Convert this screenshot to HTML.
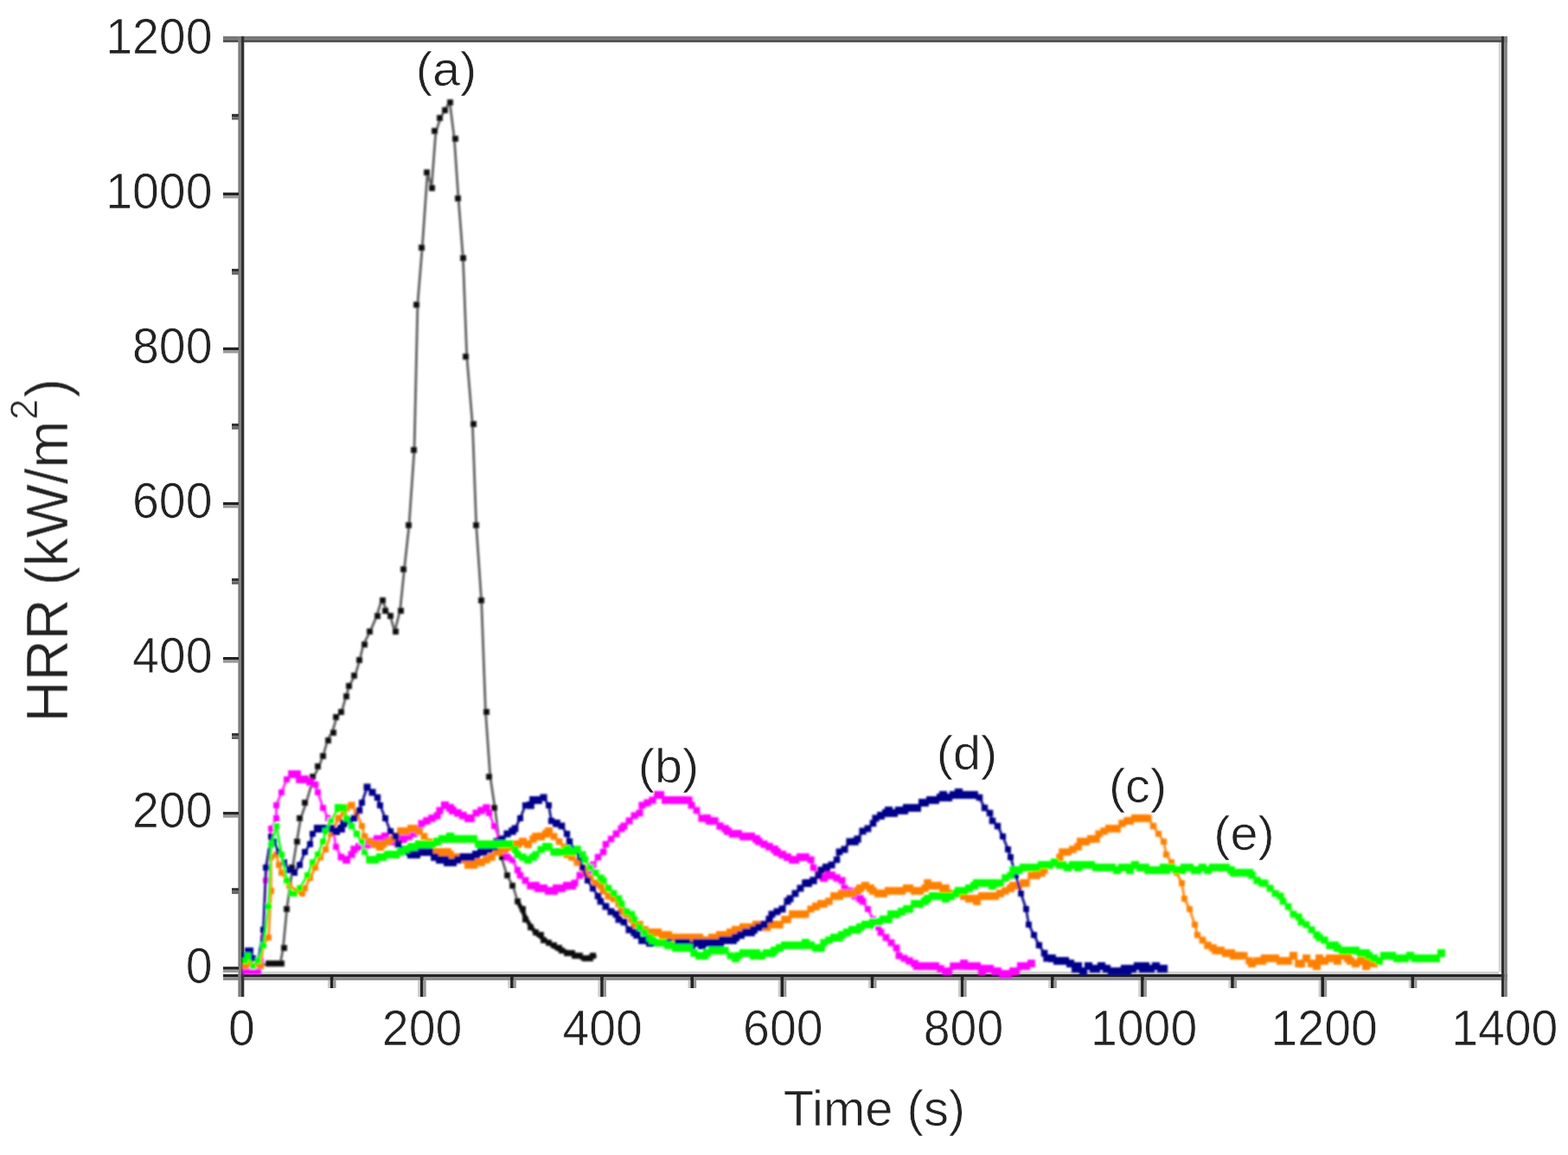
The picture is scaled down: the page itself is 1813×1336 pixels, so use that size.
<!DOCTYPE html>
<html lang="en"><head><meta charset="utf-8"><title>HRR vs Time</title>
<style>html,body{margin:0;padding:0;background:#fff}body{width:1813px;height:1336px;overflow:hidden}svg{display:block}/*0.9*/text{font-family:"Liberation Sans",sans-serif;fill:#202020;stroke:#fff;stroke-width:0.7px}</style></head><body>
<svg width="1813" height="1336" viewBox="0 0 1813 1336">
<defs><filter id="fc" filterUnits="userSpaceOnUse" x="0" y="0" width="1813" height="1336"><feGaussianBlur stdDeviation="0.9"/></filter><filter id="fa" filterUnits="userSpaceOnUse" x="0" y="0" width="1813" height="1336"><feGaussianBlur stdDeviation="0.45"/></filter><filter id="ft" filterUnits="userSpaceOnUse" x="0" y="0" width="1813" height="1336"><feGaussianBlur stdDeviation="0.7"/></filter></defs>
<rect width="1813" height="1336" fill="#fff"/>
<g id="axes" filter="url(#fa)">
<rect x="258.0" y="42.0" width="1485.0" height="3.5" fill="#767676"/>
<rect x="258.0" y="45.5" width="1485.0" height="3.5" fill="#565656"/>
<rect x="282.0" y="1123.7" width="1451.0" height="3.2" fill="#d2d2d2"/>
<rect x="258.0" y="1126.9" width="1485.0" height="3.5" fill="#222"/>
<rect x="258.0" y="1130.4" width="1485.0" height="3.5" fill="#8a8a8a"/>
<rect x="275.3" y="42.0" width="3.6" height="1111.0" fill="#808080"/>
<rect x="278.9" y="42.0" width="3.4" height="1111.0" fill="#333"/>
<rect x="1732.8" y="49.0" width="3.2" height="1075.0" fill="#d4d4d4"/>
<rect x="1736.0" y="42.0" width="3.2" height="1111.0" fill="#2e2e2e"/>
<rect x="1739.2" y="42.0" width="3.6" height="1111.0" fill="#808080"/>
<rect x="258.0" y="1118.2" width="18.0" height="3.5" fill="#222"/>
<rect x="258.0" y="1121.7" width="18.0" height="3.2" fill="#999"/>
<rect x="268.0" y="1027.2" width="8.0" height="3.4" fill="#333"/>
<rect x="268.0" y="1030.7" width="8.0" height="3.4" fill="#666"/>
<rect x="258.0" y="939.1" width="18.0" height="3.5" fill="#222"/>
<rect x="258.0" y="942.6" width="18.0" height="3.2" fill="#999"/>
<rect x="268.0" y="848.1" width="8.0" height="3.4" fill="#333"/>
<rect x="268.0" y="851.6" width="8.0" height="3.4" fill="#666"/>
<rect x="258.0" y="760.0" width="18.0" height="3.5" fill="#222"/>
<rect x="258.0" y="763.5" width="18.0" height="3.2" fill="#999"/>
<rect x="268.0" y="669.0" width="8.0" height="3.4" fill="#333"/>
<rect x="268.0" y="672.5" width="8.0" height="3.4" fill="#666"/>
<rect x="258.0" y="580.9" width="18.0" height="3.5" fill="#222"/>
<rect x="258.0" y="584.4" width="18.0" height="3.2" fill="#999"/>
<rect x="268.0" y="489.9" width="8.0" height="3.4" fill="#333"/>
<rect x="268.0" y="493.3" width="8.0" height="3.4" fill="#666"/>
<rect x="258.0" y="401.8" width="18.0" height="3.5" fill="#222"/>
<rect x="258.0" y="405.3" width="18.0" height="3.2" fill="#999"/>
<rect x="268.0" y="310.9" width="8.0" height="3.4" fill="#333"/>
<rect x="268.0" y="314.3" width="8.0" height="3.4" fill="#666"/>
<rect x="258.0" y="222.7" width="18.0" height="3.5" fill="#222"/>
<rect x="258.0" y="226.2" width="18.0" height="3.2" fill="#999"/>
<rect x="268.0" y="131.8" width="8.0" height="3.4" fill="#333"/>
<rect x="268.0" y="135.2" width="8.0" height="3.4" fill="#666"/>
<rect x="378.9" y="1134.0" width="2.8" height="9.0" fill="#ccc"/>
<rect x="381.8" y="1130.0" width="3.6" height="13.0" fill="#222"/>
<rect x="385.3" y="1134.0" width="3.2" height="9.0" fill="#999"/>
<rect x="483.1" y="1134.0" width="2.8" height="19.0" fill="#ccc"/>
<rect x="485.9" y="1130.0" width="3.6" height="23.0" fill="#222"/>
<rect x="489.5" y="1134.0" width="3.2" height="19.0" fill="#999"/>
<rect x="587.2" y="1134.0" width="2.8" height="9.0" fill="#ccc"/>
<rect x="590.1" y="1130.0" width="3.6" height="13.0" fill="#222"/>
<rect x="593.7" y="1134.0" width="3.2" height="9.0" fill="#999"/>
<rect x="691.4" y="1134.0" width="2.8" height="19.0" fill="#ccc"/>
<rect x="694.2" y="1130.0" width="3.6" height="23.0" fill="#222"/>
<rect x="697.8" y="1134.0" width="3.2" height="19.0" fill="#999"/>
<rect x="795.5" y="1134.0" width="2.8" height="9.0" fill="#ccc"/>
<rect x="798.4" y="1130.0" width="3.6" height="13.0" fill="#222"/>
<rect x="802.0" y="1134.0" width="3.2" height="9.0" fill="#999"/>
<rect x="899.7" y="1134.0" width="2.8" height="19.0" fill="#ccc"/>
<rect x="902.5" y="1130.0" width="3.6" height="23.0" fill="#222"/>
<rect x="906.1" y="1134.0" width="3.2" height="19.0" fill="#999"/>
<rect x="1003.9" y="1134.0" width="2.8" height="9.0" fill="#ccc"/>
<rect x="1006.7" y="1130.0" width="3.6" height="13.0" fill="#222"/>
<rect x="1010.3" y="1134.0" width="3.2" height="9.0" fill="#999"/>
<rect x="1108.0" y="1134.0" width="2.8" height="19.0" fill="#ccc"/>
<rect x="1110.8" y="1130.0" width="3.6" height="23.0" fill="#222"/>
<rect x="1114.4" y="1134.0" width="3.2" height="19.0" fill="#999"/>
<rect x="1212.2" y="1134.0" width="2.8" height="9.0" fill="#ccc"/>
<rect x="1215.0" y="1130.0" width="3.6" height="13.0" fill="#222"/>
<rect x="1218.6" y="1134.0" width="3.2" height="9.0" fill="#999"/>
<rect x="1316.3" y="1134.0" width="2.8" height="19.0" fill="#ccc"/>
<rect x="1319.1" y="1130.0" width="3.6" height="23.0" fill="#222"/>
<rect x="1322.7" y="1134.0" width="3.2" height="19.0" fill="#999"/>
<rect x="1420.5" y="1134.0" width="2.8" height="9.0" fill="#ccc"/>
<rect x="1423.2" y="1130.0" width="3.6" height="13.0" fill="#222"/>
<rect x="1426.9" y="1134.0" width="3.2" height="9.0" fill="#999"/>
<rect x="1524.6" y="1134.0" width="2.8" height="19.0" fill="#ccc"/>
<rect x="1527.4" y="1130.0" width="3.6" height="23.0" fill="#222"/>
<rect x="1531.0" y="1134.0" width="3.2" height="19.0" fill="#999"/>
<rect x="1628.8" y="1134.0" width="2.8" height="9.0" fill="#ccc"/>
<rect x="1631.5" y="1130.0" width="3.6" height="13.0" fill="#222"/>
<rect x="1635.2" y="1134.0" width="3.2" height="9.0" fill="#999"/>
</g>
<g id="curves" filter="url(#fc)">
<polyline points="279.0,1118.0 300.0,1116.0 324.0,1115.0 327.3,1097.3 331.8,1050.2 338.5,1002.5 343.1,973.8 347.6,946.8 353.9,928.9 362.9,898.3 368.3,887.6 374.0,873.2 379.0,855.2 384.4,846.2 389.5,829.2 395.2,822.9 399.7,806.7 404.2,792.3 410.5,781.6 415.9,763.6 420.2,745.3 428.0,730.4 435.1,713.9 441.4,693.4 446.9,705.2 451.6,713.9 456.4,730.4 462.6,706.0 467.4,658.8 472.9,608.5 479.0,520.3 482.9,351.4 488.3,285.4 494.3,199.0 499.0,217.0 503.8,153.0 509.0,137.5 514.5,126.7 520.0,118.0 525.3,160.4 530.0,229.0 535.4,298.8 539.7,411.5 546.4,491.6 550.7,608.5 556.7,695.8 561.4,822.3 566.8,898.3 572.2,934.3 579.7,991.2 586.4,1013.0 593.2,1024.8 598.2,1041.7 603.3,1051.8 608.3,1062.8 615.0,1073.7 621.5,1081.0 633.0,1089.4 644.7,1097.6 657.9,1101.8 669.5,1105.9 674.5,1109.2 682.7,1106.7 689.4,1105.0" fill="none" stroke="#5c5c5c" stroke-width="2.8" stroke-linejoin="round"/>
<polyline points="598.2,1041.7 603.3,1051.8 608.3,1062.8 615.0,1073.7 621.5,1081.0 633.0,1089.4 644.7,1097.6 657.9,1101.8 669.5,1105.9 674.5,1109.2 682.7,1106.7 689.4,1105.0" fill="none" stroke="#111" stroke-width="5" stroke-linejoin="round"/>
<path d="M307.1 1111.1h6.8v6.8h-6.8zM313.1 1111.1h6.8v6.8h-6.8zM316.1 1111.1h6.8v6.8h-6.8zM322.1 1111.1h6.8v6.8h-6.8zM325.1 1093.1h6.8v6.8h-6.8zM328.1 1048.1h6.8v6.8h-6.8zM334.1 1000.1h6.8v6.8h-6.8zM340.1 970.1h6.8v6.8h-6.8zM343.1 943.1h6.8v6.8h-6.8zM349.1 925.1h6.8v6.8h-6.8zM358.1 895.1h6.8v6.8h-6.8zM364.1 883.1h6.8v6.8h-6.8zM370.1 871.1h6.8v6.8h-6.8zM376.1 853.1h6.8v6.8h-6.8zM382.1 844.1h6.8v6.8h-6.8zM385.1 826.1h6.8v6.8h-6.8zM391.1 820.1h6.8v6.8h-6.8zM397.1 802.1h6.8v6.8h-6.8zM400.1 790.1h6.8v6.8h-6.8zM406.1 778.1h6.8v6.8h-6.8zM412.1 760.1h6.8v6.8h-6.8zM418.1 742.1h6.8v6.8h-6.8zM424.1 727.1h6.8v6.8h-6.8zM433.1 709.1h6.8v6.8h-6.8zM439.1 691.1h6.8v6.8h-6.8zM442.1 703.1h6.8v6.8h-6.8zM448.1 709.1h6.8v6.8h-6.8zM454.1 727.1h6.8v6.8h-6.8zM460.1 703.1h6.8v6.8h-6.8zM463.1 655.1h6.8v6.8h-6.8zM469.1 604.1h6.8v6.8h-6.8zM475.1 517.1h6.8v6.8h-6.8zM478.1 349.1h6.8v6.8h-6.8zM484.1 283.1h6.8v6.8h-6.8zM490.1 196.1h6.8v6.8h-6.8zM496.1 214.1h6.8v6.8h-6.8zM499.1 148.1h6.8v6.8h-6.8zM505.1 133.1h6.8v6.8h-6.8zM511.1 124.1h6.8v6.8h-6.8zM517.1 115.1h6.8v6.8h-6.8zM523.1 157.1h6.8v6.8h-6.8zM526.1 226.1h6.8v6.8h-6.8zM532.1 295.1h6.8v6.8h-6.8zM535.1 409.1h6.8v6.8h-6.8zM544.1 487.1h6.8v6.8h-6.8zM547.1 604.1h6.8v6.8h-6.8zM553.1 691.1h6.8v6.8h-6.8zM559.1 820.1h6.8v6.8h-6.8zM562.1 895.1h6.8v6.8h-6.8zM568.1 931.1h6.8v6.8h-6.8zM577.1 988.1h6.8v6.8h-6.8zM583.1 1009.1h6.8v6.8h-6.8zM589.1 1021.1h6.8v6.8h-6.8zM595.1 1039.1h6.8v6.8h-6.8zM601.1 1048.1h6.8v6.8h-6.8zM604.1 1060.1h6.8v6.8h-6.8zM610.1 1069.1h6.8v6.8h-6.8zM616.1 1075.1h6.8v6.8h-6.8zM622.1 1078.1h6.8v6.8h-6.8zM625.1 1084.1h6.8v6.8h-6.8zM631.1 1087.1h6.8v6.8h-6.8zM637.1 1090.1h6.8v6.8h-6.8zM643.1 1093.1h6.8v6.8h-6.8zM646.1 1096.1h6.8v6.8h-6.8zM652.1 1099.1h6.8v6.8h-6.8zM658.1 1099.1h6.8v6.8h-6.8zM661.1 1102.1h6.8v6.8h-6.8zM667.1 1102.1h6.8v6.8h-6.8zM673.1 1105.1h6.8v6.8h-6.8zM679.1 1105.1h6.8v6.8h-6.8zM682.1 1102.1h6.8v6.8h-6.8z" fill="#0a0a0a"/>
<polyline points="283.5,1123.5 289.5,1123.5 292.5,1123.5 298.5,1123.5 301.5,1111.5 304.5,1084.5 307.5,1018.5 313.5,958.5 319.5,946.5 319.5,931.5 325.5,916.5 331.5,901.5 337.5,895.5 343.5,895.5 346.5,901.5 352.5,901.5 358.5,904.5 364.5,907.5 367.5,916.5 373.5,934.5 379.5,946.5 385.5,961.5 388.5,979.5 394.5,991.5 400.5,994.5 406.5,988.5 409.5,982.5 415.5,979.5 421.5,979.5 424.5,976.5 430.5,973.5 436.5,970.5 442.5,973.5 445.5,967.5 451.5,973.5 457.5,973.5 463.5,970.5 466.5,970.5 472.5,967.5 478.5,964.5 484.5,958.5 487.5,952.5 493.5,949.5 499.5,946.5 505.5,943.5 508.5,937.5 514.5,931.5 520.5,934.5 523.5,937.5 529.5,940.5 535.5,943.5 541.5,946.5 544.5,946.5 550.5,940.5 556.5,937.5 562.5,934.5 565.5,940.5 571.5,955.5 577.5,970.5 583.5,985.5 586.5,991.5 592.5,994.5 598.5,1006.5 601.5,1012.5 607.5,1018.5 613.5,1024.5 619.5,1024.5 622.5,1027.5 628.5,1027.5 634.5,1030.5 640.5,1030.5 643.5,1027.5 649.5,1027.5 655.5,1024.5 661.5,1024.5 664.5,1021.5 670.5,1012.5 676.5,1009.5 682.5,1006.5 685.5,1000.5 691.5,991.5 697.5,985.5 700.5,976.5 706.5,970.5 712.5,964.5 718.5,958.5 721.5,955.5 727.5,949.5 733.5,943.5 739.5,940.5 742.5,931.5 748.5,928.5 754.5,925.5 760.5,919.5 763.5,919.5 769.5,925.5 775.5,925.5 781.5,925.5 784.5,925.5 790.5,925.5 796.5,925.5 799.5,931.5 805.5,937.5 811.5,946.5 817.5,946.5 820.5,949.5 826.5,949.5 832.5,955.5 838.5,958.5 841.5,961.5 847.5,964.5 853.5,964.5 859.5,967.5 862.5,967.5 868.5,967.5 874.5,970.5 877.5,973.5 883.5,976.5 889.5,979.5 895.5,982.5 898.5,985.5 904.5,988.5 910.5,991.5 916.5,994.5 919.5,994.5 925.5,991.5 931.5,991.5 937.5,994.5 940.5,1003.5 946.5,1012.5 952.5,1015.5 958.5,1012.5 961.5,1012.5 967.5,1015.5 973.5,1018.5 976.5,1027.5 982.5,1030.5 988.5,1036.5 994.5,1039.5 997.5,1042.5 1003.5,1051.5 1009.5,1063.5 1015.5,1072.5 1018.5,1078.5 1024.5,1084.5 1030.5,1090.5 1036.5,1096.5 1039.5,1105.5 1045.5,1108.5 1051.5,1111.5 1057.5,1114.5 1060.5,1117.5 1066.5,1117.5 1072.5,1117.5 1075.5,1117.5 1081.5,1117.5 1087.5,1120.5 1093.5,1123.5 1096.5,1123.5 1102.5,1117.5 1108.5,1117.5 1114.5,1114.5 1117.5,1117.5 1123.5,1117.5 1129.5,1117.5 1135.5,1123.5 1138.5,1120.5 1144.5,1120.5 1150.5,1123.5 1153.5,1123.5 1159.5,1126.5 1165.5,1126.5 1171.5,1123.5 1174.5,1123.5 1180.5,1117.5 1186.5,1117.5 1192.5,1114.5" fill="none" stroke="#ff20ff" stroke-width="2.8" stroke-linejoin="round"/>
<path d="M280.0 1120.0h7v7h-7zM286.0 1120.0h7v7h-7zM289.0 1120.0h7v7h-7zM295.0 1120.0h7v7h-7zM298.0 1108.0h7v7h-7zM301.0 1081.0h7v7h-7zM304.0 1015.0h7v7h-7zM310.0 955.0h7v7h-7zM316.0 943.0h7v7h-7zM316.0 928.0h7v7h-7zM322.0 913.0h7v7h-7zM328.0 898.0h7v7h-7z" fill="#ff00ff"/>
<path d="M333.1 891.1h8.8v8.8h-8.8zM339.1 891.1h8.8v8.8h-8.8zM342.1 897.0h8.9v8.9h-8.9zM348.1 897.1h8.8v8.8h-8.8zM354.2 900.2h8.5v8.5h-8.5zM360.7 903.7h7.6v7.6h-7.6zM364.0 913.0h7v7h-7zM370.0 931.0h7v7h-7zM376.0 943.0h7v7h-7zM382.1 958.0h6.9v6.9h-6.9zM385.1 976.0h6.9v6.9h-6.9zM390.6 987.6h7.7v7.7h-7.7zM396.0 990.0h9v9h-9zM402.4 984.4h8.2v8.2h-8.2zM405.3 978.3h8.4v8.4h-8.4zM411.1 975.1h8.7v8.7h-8.7zM417.1 975.1h8.8v8.8h-8.8zM420.1 972.1h8.8v8.8h-8.8zM426.1 969.0h8.9v8.9h-8.9zM432.0 966.0h9v9h-9zM437.9 969.0h9.1v9.1h-9.1zM440.9 962.9h9.2v9.2h-9.2zM446.9 969.0h9.1v9.1h-9.1zM452.9 968.9h9.2v9.2h-9.2zM458.9 965.9h9.2v9.2h-9.2zM462.0 966.0h9v9h-9zM468.4 963.4h8.3v8.3h-8.3zM474.5 960.5h8v8h-8zM480.6 954.5h7.9v7.9h-7.9zM483.4 948.4h8.2v8.2h-8.2zM489.2 945.2h8.6v8.6h-8.6zM495.2 942.2h8.6v8.6h-8.6zM501.4 939.4h8.3v8.3h-8.3zM504.4 933.4h8.3v8.3h-8.3zM509.9 927.0h9.1v9.1h-9.1zM516.0 930.0h9v9h-9zM519.0 933.0h8.9v8.9h-8.9zM525.1 936.1h8.7v8.7h-8.7zM531.1 939.1h8.7v8.7h-8.7zM537.0 942.0h9v9h-9zM540.1 942.1h8.8v8.8h-8.8zM546.5 936.5h8v8h-8zM552.2 933.2h8.6v8.6h-8.6zM558.2 930.2h8.6v8.6h-8.6zM561.9 936.9h7.2v7.2h-7.2zM568.0 952.0h6.9v6.9h-6.9zM574.0 967.0h7v7h-7zM579.9 981.9h7.3v7.3h-7.3zM582.5 987.5h8v8h-8zM588.7 990.7h7.6v7.6h-7.6zM594.8 1002.8h7.4v7.4h-7.4zM597.7 1008.7h7.6v7.6h-7.6zM603.5 1014.5h8v8h-8zM609.2 1020.2h8.5v8.5h-8.5zM615.0 1020.0h8.9v8.9h-8.9zM618.0 1023.0h9v9h-9zM623.9 1022.9h9.2v9.2h-9.2zM629.9 1025.9h9.2v9.2h-9.2zM636.0 1026.0h9.1v9.1h-9.1zM639.0 1023.0h9.1v9.1h-9.1zM645.0 1023.0h9.1v9.1h-9.1zM651.0 1020.0h9v9h-9zM657.0 1020.0h8.9v8.9h-8.9zM660.5 1017.5h8v8h-8zM666.6 1008.6h7.8v7.8h-7.8zM672.4 1005.4h8.3v8.3h-8.3zM678.4 1002.4h8.3v8.3h-8.3zM681.6 996.6h7.8v7.8h-7.8zM687.7 987.7h7.6v7.6h-7.6zM693.7 981.7h7.6v7.6h-7.6zM696.7 972.7h7.6v7.6h-7.6zM702.8 966.8h7.5v7.5h-7.5zM708.6 960.6h7.8v7.8h-7.8zM714.5 954.5h8.1v8.1h-8.1zM717.4 951.4h8.2v8.2h-8.2zM723.5 945.5h8.1v8.1h-8.1zM729.5 939.5h8v8h-8zM735.5 936.5h8.1v8.1h-8.1zM738.4 927.4h8.2v8.2h-8.2zM744.4 924.4h8.3v8.3h-8.3zM750.4 921.4h8.3v8.3h-8.3zM756.0 915.0h9v9h-9zM759.0 915.0h9.1v9.1h-9.1zM765.0 921.0h9v9h-9zM770.9 920.9h9.2v9.2h-9.2zM776.9 920.9h9.2v9.2h-9.2zM779.9 920.9h9.2v9.2h-9.2zM786.0 921.0h9v9h-9zM792.2 921.2h8.5v8.5h-8.5zM795.5 927.5h8.1v8.1h-8.1zM801.6 933.6h7.7v7.7h-7.7zM807.4 942.4h8.3v8.3h-8.3zM813.0 942.0h8.9v8.9h-8.9zM816.1 945.1h8.8v8.8h-8.8zM822.2 945.2h8.5v8.5h-8.5zM828.3 951.3h8.4v8.4h-8.4zM834.2 954.2h8.6v8.6h-8.6zM837.0 957.0h8.9v8.9h-8.9zM843.0 960.0h8.9v8.9h-8.9zM849.0 960.0h8.9v8.9h-8.9zM855.0 963.0h9v9h-9zM858.0 963.0h9.1v9.1h-9.1zM864.0 963.0h9.1v9.1h-9.1zM870.0 966.0h8.9v8.9h-8.9zM873.2 969.2h8.6v8.6h-8.6zM879.2 972.2h8.6v8.6h-8.6zM885.1 975.1h8.7v8.7h-8.7zM891.1 978.1h8.8v8.8h-8.8zM894.1 981.1h8.8v8.8h-8.8zM900.1 984.1h8.8v8.8h-8.8zM906.1 987.1h8.8v8.8h-8.8zM912.0 990.0h9v9h-9zM914.9 989.9h9.2v9.2h-9.2zM921.0 987.0h9.1v9.1h-9.1zM927.0 987.0h8.9v8.9h-8.9zM933.4 990.4h8.2v8.2h-8.2zM936.8 999.8h7.5v7.5h-7.5zM942.6 1008.6h7.8v7.8h-7.8zM947.9 1010.9h9.2v9.2h-9.2zM953.9 1007.9h9.2v9.2h-9.2zM957.0 1008.0h8.9v8.9h-8.9zM963.3 1011.3h8.4v8.4h-8.4zM969.4 1014.4h8.2v8.2h-8.2zM972.5 1023.5h8v8h-8zM978.5 1026.5h7.9v7.9h-7.9zM984.4 1032.4h8.2v8.2h-8.2zM990.3 1035.3h8.4v8.4h-8.4zM993.6 1038.6h7.8v7.8h-7.8zM999.9 1047.9h7.2v7.2h-7.2zM1005.9 1059.8h7.3v7.3h-7.3zM1011.8 1068.8h7.5v7.5h-7.5zM1014.6 1074.6h7.8v7.8h-7.8zM1020.5 1080.5h8v8h-8zM1026.5 1086.5h7.9v7.9h-7.9zM1032.6 1092.6h7.8v7.8h-7.8zM1035.5 1101.5h7.9v7.9h-7.9zM1041.5 1104.5h8.1v8.1h-8.1zM1047.2 1107.2h8.5v8.5h-8.5zM1053.2 1110.2h8.7v8.7h-8.7zM1056.0 1113.0h9v9h-9zM1061.9 1112.9h9.2v9.2h-9.2zM1068.0 1113.0h9v9h-9zM1071.0 1113.0h8.9v8.9h-8.9zM1077.0 1113.0h9v9h-9zM1083.3 1116.3h8.4v8.4h-8.4zM1089.2 1119.2h8.7v8.7h-8.7zM1091.9 1118.9h9.2v9.2h-9.2zM1098.2 1113.2h8.5v8.5h-8.5zM1104.2 1113.2h8.6v8.6h-8.6zM1110.0 1110.0h9.1v9.1h-9.1zM1113.0 1113.0h8.9v8.9h-8.9zM1119.1 1113.1h8.8v8.8h-8.8zM1125.0 1113.0h9.1v9.1h-9.1zM1130.9 1118.9h9.2v9.2h-9.2zM1133.9 1115.9h9.2v9.2h-9.2zM1140.0 1116.0h9.1v9.1h-9.1zM1146.0 1119.0h8.9v8.9h-8.9zM1149.0 1119.0h9.1v9.1h-9.1zM1155.0 1122.0h9.1v9.1h-9.1zM1161.0 1122.0h9.1v9.1h-9.1zM1167.0 1119.0h9v9h-9zM1170.0 1119.0h9.1v9.1h-9.1zM1175.9 1112.9h9.2v9.2h-9.2zM1182.0 1113.0h9v9h-9zM1188.0 1110.0h8.9v8.9h-8.9z" fill="#ff00ff"/>
<polyline points="283.5,1117.5 289.5,1114.5 292.5,1117.5 301.5,1117.5 304.5,1093.5 310.5,1084.5 313.5,1030.5 313.5,991.5 319.5,988.5 322.5,1000.5 325.5,1009.5 331.5,1018.5 334.5,1024.5 343.5,1030.5 349.5,1033.5 352.5,1027.5 358.5,1015.5 364.5,1003.5 370.5,991.5 376.5,982.5 382.5,964.5 391.5,946.5 397.5,940.5 400.5,934.5 406.5,931.5 412.5,940.5 418.5,955.5 421.5,967.5 427.5,973.5 433.5,976.5 439.5,979.5 442.5,976.5 448.5,973.5 454.5,970.5 457.5,967.5 463.5,961.5 469.5,961.5 475.5,958.5 478.5,958.5 484.5,961.5 490.5,967.5 496.5,973.5 499.5,985.5 505.5,985.5 511.5,985.5 517.5,985.5 520.5,988.5 526.5,991.5 532.5,991.5 538.5,994.5 541.5,1000.5 547.5,1000.5 553.5,997.5 556.5,997.5 562.5,994.5 568.5,991.5 574.5,985.5 577.5,985.5 583.5,982.5 589.5,979.5 595.5,976.5 598.5,976.5 604.5,973.5 610.5,976.5 616.5,970.5 619.5,967.5 625.5,967.5 631.5,964.5 634.5,961.5 640.5,967.5 646.5,973.5 652.5,979.5 655.5,988.5 661.5,991.5 667.5,997.5 673.5,1003.5 676.5,1006.5 682.5,1015.5 688.5,1021.5 694.5,1024.5 697.5,1030.5 703.5,1036.5 709.5,1039.5 715.5,1045.5 718.5,1054.5 724.5,1057.5 730.5,1063.5 733.5,1069.5 739.5,1069.5 745.5,1075.5 751.5,1078.5 754.5,1078.5 760.5,1078.5 766.5,1081.5 772.5,1081.5 775.5,1084.5 781.5,1084.5 787.5,1084.5 793.5,1084.5 796.5,1087.5 802.5,1084.5 808.5,1084.5 814.5,1087.5 817.5,1087.5 823.5,1084.5 829.5,1084.5 832.5,1081.5 838.5,1081.5 844.5,1078.5 850.5,1075.5 853.5,1075.5 859.5,1072.5 865.5,1072.5 871.5,1072.5 874.5,1069.5 880.5,1069.5 886.5,1072.5 892.5,1069.5 895.5,1069.5 901.5,1069.5 907.5,1063.5 910.5,1063.5 916.5,1057.5 922.5,1057.5 928.5,1057.5 931.5,1057.5 937.5,1051.5 943.5,1048.5 949.5,1045.5 952.5,1045.5 958.5,1042.5 964.5,1036.5 970.5,1036.5 973.5,1033.5 979.5,1033.5 985.5,1033.5 991.5,1030.5 994.5,1027.5 1000.5,1024.5 1006.5,1027.5 1009.5,1030.5 1015.5,1033.5 1021.5,1033.5 1027.5,1030.5 1030.5,1030.5 1036.5,1030.5 1042.5,1030.5 1048.5,1027.5 1051.5,1027.5 1057.5,1030.5 1063.5,1030.5 1069.5,1027.5 1072.5,1021.5 1078.5,1024.5 1084.5,1024.5 1090.5,1027.5 1093.5,1027.5 1099.5,1033.5 1105.5,1033.5 1108.5,1033.5 1114.5,1036.5 1120.5,1039.5 1126.5,1039.5 1129.5,1042.5 1135.5,1036.5 1141.5,1036.5 1147.5,1036.5 1150.5,1036.5 1156.5,1033.5 1162.5,1030.5 1168.5,1027.5 1171.5,1024.5 1177.5,1024.5 1183.5,1021.5 1186.5,1021.5 1192.5,1012.5 1198.5,1012.5 1204.5,1009.5 1207.5,1006.5 1213.5,1000.5 1219.5,997.5 1225.5,991.5 1228.5,985.5 1234.5,985.5 1240.5,982.5 1246.5,979.5 1249.5,973.5 1255.5,973.5 1261.5,970.5 1267.5,970.5 1270.5,964.5 1276.5,961.5 1282.5,958.5 1285.5,958.5 1291.5,958.5 1297.5,952.5 1303.5,949.5 1306.5,949.5 1312.5,946.5 1318.5,946.5 1324.5,946.5 1327.5,946.5 1333.5,955.5 1339.5,964.5 1345.5,973.5 1348.5,988.5 1354.5,997.5 1360.5,1009.5 1366.5,1021.5 1369.5,1039.5 1375.5,1051.5 1381.5,1069.5 1384.5,1081.5 1390.5,1087.5 1396.5,1093.5 1402.5,1096.5 1405.5,1099.5 1411.5,1099.5 1417.5,1102.5 1423.5,1102.5 1426.5,1105.5 1432.5,1105.5 1438.5,1105.5 1444.5,1111.5 1447.5,1114.5 1453.5,1111.5 1459.5,1111.5 1462.5,1108.5 1468.5,1108.5 1474.5,1108.5 1480.5,1111.5 1483.5,1111.5 1489.5,1111.5 1495.5,1105.5 1501.5,1114.5 1504.5,1114.5 1510.5,1108.5 1516.5,1114.5 1522.5,1117.5 1525.5,1108.5 1531.5,1111.5 1537.5,1108.5 1543.5,1108.5 1546.5,1111.5 1552.5,1105.5 1558.5,1108.5 1561.5,1111.5 1567.5,1114.5 1573.5,1111.5 1579.5,1117.5 1582.5,1114.5 1588.5,1114.5 1594.5,1111.5" fill="none" stroke="#ff8a18" stroke-width="2.8" stroke-linejoin="round"/>
<path d="M280.0 1114.0h7v7h-7zM286.0 1111.0h7v7h-7zM289.0 1114.0h7v7h-7zM298.0 1114.0h7v7h-7zM301.0 1090.0h7v7h-7zM307.0 1081.0h7v7h-7zM310.0 1027.0h7v7h-7zM310.0 988.0h7v7h-7zM316.0 985.0h7v7h-7zM319.0 997.0h7v7h-7zM322.0 1006.0h7v7h-7zM328.0 1015.0h7v7h-7zM331.0 1021.0h7v7h-7zM340.0 1027.0h7v7h-7zM346.0 1030.0h7v7h-7zM349.0 1024.0h7v7h-7zM355.0 1012.0h7v7h-7zM361.0 1000.0h7v7h-7zM367.0 988.0h7v7h-7zM373.0 979.0h7v7h-7zM379.0 961.0h7v7h-7z" fill="#ff8000"/>
<path d="M387.5 942.5h8v8h-8zM393.7 936.7h7.6v7.6h-7.6zM396.5 930.5h8v8h-8zM402.4 927.4h8.2v8.2h-8.2zM408.9 937.0h7.1v7.1h-7.1zM414.9 952.0h7.1v7.1h-7.1zM417.9 963.9h7.3v7.3h-7.3zM423.5 969.5h8v8h-8zM429.1 972.1h8.8v8.8h-8.8zM434.9 974.9h9.2v9.2h-9.2zM438.1 972.1h8.7v8.7h-8.7zM444.2 969.2h8.6v8.6h-8.6zM450.2 966.2h8.6v8.6h-8.6zM453.2 963.2h8.6v8.6h-8.6zM459.1 957.1h8.7v8.7h-8.7zM465.1 957.1h8.8v8.8h-8.8zM471.0 954.0h9v9h-9zM473.9 953.9h9.2v9.2h-9.2zM480.2 957.2h8.5v8.5h-8.5zM486.6 963.6h7.7v7.7h-7.7zM492.8 969.8h7.4v7.4h-7.4zM495.4 981.5h8.1v8.1h-8.1zM500.9 980.9h9.2v9.2h-9.2zM506.9 981.0h9.1v9.1h-9.1zM513.1 981.1h8.8v8.8h-8.8zM516.1 984.1h8.8v8.8h-8.8zM522.1 987.1h8.8v8.8h-8.8zM528.1 987.1h8.8v8.8h-8.8zM534.1 990.1h8.8v8.8h-8.8zM537.0 996.0h9.1v9.1h-9.1zM542.9 995.9h9.2v9.2h-9.2zM549.0 993.0h9.1v9.1h-9.1zM552.0 993.0h8.9v8.9h-8.9zM558.2 990.2h8.6v8.6h-8.6zM564.2 987.2h8.5v8.5h-8.5zM570.2 981.2h8.6v8.6h-8.6zM573.2 981.2h8.6v8.6h-8.6zM579.1 978.1h8.8v8.8h-8.8zM585.0 975.0h9v9h-9zM591.0 972.0h9v9h-9zM594.0 972.0h9.1v9.1h-9.1zM599.9 968.9h9.2v9.2h-9.2zM606.0 972.0h9v9h-9zM612.3 966.3h8.4v8.4h-8.4zM615.2 963.2h8.6v8.6h-8.6zM621.0 963.0h9v9h-9zM627.0 960.0h9.1v9.1h-9.1zM630.0 957.0h9v9h-9zM636.5 963.5h8v8h-8zM642.7 969.7h7.6v7.6h-7.6zM648.7 975.7h7.6v7.6h-7.6zM651.5 984.5h7.9v7.9h-7.9zM657.3 987.3h8.4v8.4h-8.4zM663.5 993.5h8.1v8.1h-8.1zM669.6 999.6h7.7v7.7h-7.7zM672.6 1002.6h7.8v7.8h-7.8zM678.5 1011.5h7.9v7.9h-7.9zM684.5 1017.5h8v8h-8zM690.5 1020.5h8v8h-8zM693.5 1026.5h8v8h-8zM699.5 1032.5h8v8h-8zM705.5 1035.5h8v8h-8zM711.5 1041.5h8v8h-8zM714.5 1050.5h8v8h-8zM720.5 1053.5h8v8h-8zM726.5 1059.5h8v8h-8zM729.4 1065.3h8.3v8.3h-8.3zM735.2 1065.2h8.6v8.6h-8.6zM741.2 1071.2h8.6v8.6h-8.6zM747.0 1074.0h8.9v8.9h-8.9zM750.0 1074.0h9.1v9.1h-9.1zM756.0 1074.0h9.1v9.1h-9.1zM762.0 1077.0h9.1v9.1h-9.1zM768.0 1077.0h9.1v9.1h-9.1zM771.0 1080.0h9.1v9.1h-9.1zM776.9 1079.9h9.2v9.2h-9.2zM782.9 1079.9h9.2v9.2h-9.2zM788.9 1079.9h9.2v9.2h-9.2zM791.9 1082.9h9.2v9.2h-9.2zM797.9 1079.9h9.2v9.2h-9.2zM803.9 1079.9h9.2v9.2h-9.2zM809.9 1082.9h9.2v9.2h-9.2zM813.0 1083.0h9.1v9.1h-9.1zM819.0 1080.0h9.1v9.1h-9.1zM825.0 1080.0h9.1v9.1h-9.1zM828.0 1077.0h9.1v9.1h-9.1zM834.0 1077.0h9.1v9.1h-9.1zM840.0 1074.0h9.1v9.1h-9.1zM846.0 1071.0h9v9h-9zM849.0 1071.0h9v9h-9zM855.0 1068.0h9v9h-9zM861.0 1068.0h9.1v9.1h-9.1zM866.9 1067.9h9.2v9.2h-9.2zM869.9 1064.9h9.2v9.2h-9.2zM875.9 1064.9h9.2v9.2h-9.2zM881.9 1067.9h9.2v9.2h-9.2zM887.9 1064.9h9.2v9.2h-9.2zM891.0 1065.0h9.1v9.1h-9.1zM897.1 1065.2h8.7v8.7h-8.7zM903.2 1059.2h8.6v8.6h-8.6zM906.1 1059.2h8.7v8.7h-8.7zM912.1 1053.1h8.8v8.8h-8.8zM917.9 1052.9h9.2v9.2h-9.2zM923.9 1052.9h9.2v9.2h-9.2zM927.4 1053.3h8.3v8.3h-8.3zM933.4 1047.4h8.2v8.2h-8.2zM939.0 1044.0h8.9v8.9h-8.9zM945.0 1041.0h8.9v8.9h-8.9zM948.1 1041.2h8.7v8.7h-8.7zM954.2 1038.2h8.6v8.6h-8.6zM960.1 1032.1h8.8v8.8h-8.8zM966.0 1032.0h9v9h-9zM969.0 1029.0h9.1v9.1h-9.1zM975.0 1029.0h9.1v9.1h-9.1zM981.0 1029.0h9v9h-9zM987.0 1026.0h8.9v8.9h-8.9zM990.0 1023.0h8.9v8.9h-8.9zM995.9 1019.9h9.2v9.2h-9.2zM1002.0 1023.0h9v9h-9zM1005.1 1026.2h8.7v8.7h-8.7zM1011.0 1029.0h9.1v9.1h-9.1zM1016.9 1028.9h9.2v9.2h-9.2zM1022.9 1025.9h9.2v9.2h-9.2zM1025.9 1025.9h9.2v9.2h-9.2zM1031.9 1025.9h9.2v9.2h-9.2zM1037.9 1025.9h9.2v9.2h-9.2zM1043.9 1022.9h9.2v9.2h-9.2zM1046.9 1022.9h9.2v9.2h-9.2zM1052.9 1025.9h9.2v9.2h-9.2zM1058.9 1025.9h9.2v9.2h-9.2zM1065.3 1023.3h8.4v8.4h-8.4zM1068.2 1017.1h8.7v8.7h-8.7zM1073.9 1019.9h9.2v9.2h-9.2zM1080.0 1020.0h9v9h-9zM1086.1 1023.1h8.8v8.8h-8.8zM1089.1 1023.1h8.8v8.8h-8.8zM1095.0 1029.0h8.9v8.9h-8.9zM1101.0 1029.0h9v9h-9zM1104.0 1029.0h9v9h-9zM1110.0 1032.0h9v9h-9zM1116.0 1035.0h8.9v8.9h-8.9zM1122.0 1035.0h9.1v9.1h-9.1zM1125.0 1038.0h9.1v9.1h-9.1zM1131.0 1032.0h8.9v8.9h-8.9zM1137.0 1032.0h9.1v9.1h-9.1zM1142.9 1031.9h9.2v9.2h-9.2zM1145.9 1031.9h9.2v9.2h-9.2zM1152.0 1029.0h8.9v8.9h-8.9zM1158.2 1026.2h8.5v8.5h-8.5zM1164.1 1023.1h8.8v8.8h-8.8zM1167.0 1020.0h9.1v9.1h-9.1zM1173.0 1020.0h9v9h-9zM1179.1 1017.1h8.8v8.8h-8.8zM1182.3 1017.3h8.4v8.4h-8.4zM1188.3 1008.4h8.3v8.3h-8.3zM1194.0 1008.0h8.9v8.9h-8.9zM1200.0 1005.0h8.9v8.9h-8.9zM1203.4 1002.4h8.2v8.2h-8.2zM1209.5 996.5h7.9v7.9h-7.9zM1215.5 993.5h8.1v8.1h-8.1zM1221.3 987.4h8.3v8.3h-8.3zM1224.2 981.2h8.5v8.5h-8.5zM1230.2 981.2h8.6v8.6h-8.6zM1236.2 978.2h8.6v8.6h-8.6zM1242.2 975.1h8.7v8.7h-8.7zM1245.0 969.0h8.9v8.9h-8.9zM1251.0 969.0h9v9h-9zM1257.0 966.0h9v9h-9zM1263.2 966.2h8.6v8.6h-8.6zM1266.4 960.4h8.2v8.2h-8.2zM1272.3 957.3h8.4v8.4h-8.4zM1278.0 954.0h8.9v8.9h-8.9zM1281.0 954.0h9.1v9.1h-9.1zM1287.0 954.0h8.9v8.9h-8.9zM1293.2 948.2h8.5v8.5h-8.5zM1299.2 945.2h8.6v8.6h-8.6zM1302.0 945.0h8.9v8.9h-8.9zM1308.0 942.0h9.1v9.1h-9.1zM1313.9 941.9h9.2v9.2h-9.2zM1320.0 942.0h9.1v9.1h-9.1zM1323.4 942.4h8.2v8.2h-8.2zM1329.8 951.8h7.4v7.4h-7.4zM1335.9 960.9h7.2v7.2h-7.2zM1341.9 969.9h7.2v7.2h-7.2zM1344.9 984.9h7.2v7.2h-7.2zM1351.0 994.0h7.1v7.1h-7.1zM1357.0 1006.0h7v7h-7zM1363.0 1018.0h7v7h-7zM1366.0 1036.0h6.9v6.9h-6.9zM1372.0 1048.0h6.9v6.9h-6.9zM1378.0 1066.0h7v7h-7zM1380.9 1077.9h7.2v7.2h-7.2zM1386.6 1083.6h7.8v7.8h-7.8zM1392.2 1089.2h8.5v8.5h-8.5zM1398.2 1092.2h8.6v8.6h-8.6zM1401.2 1095.2h8.6v8.6h-8.6zM1407.0 1095.0h8.9v8.9h-8.9zM1413.0 1098.0h9.1v9.1h-9.1zM1419.0 1098.0h9.1v9.1h-9.1zM1422.0 1101.0h9.1v9.1h-9.1zM1427.9 1100.9h9.2v9.2h-9.2zM1434.3 1101.3h8.3v8.3h-8.3zM1440.3 1107.3h8.3v8.3h-8.3zM1443.0 1110.0h9.1v9.1h-9.1zM1449.2 1107.2h8.7v8.7h-8.7zM1455.0 1107.0h9.1v9.1h-9.1zM1457.9 1103.9h9.2v9.2h-9.2zM1463.9 1103.9h9.2v9.2h-9.2zM1470.0 1104.0h9.1v9.1h-9.1zM1476.0 1107.0h8.9v8.9h-8.9zM1478.9 1106.9h9.2v9.2h-9.2zM1485.0 1107.0h8.9v8.9h-8.9zM1490.9 1100.9h9.2v9.2h-9.2zM1497.2 1110.2h8.7v8.7h-8.7zM1500.0 1110.0h9.1v9.1h-9.1zM1506.0 1104.0h9.1v9.1h-9.1zM1512.0 1110.0h9.1v9.1h-9.1zM1517.9 1112.9h9.2v9.2h-9.2zM1521.0 1104.0h9v9h-9zM1527.0 1107.0h9v9h-9zM1533.0 1104.0h9.1v9.1h-9.1zM1538.9 1103.9h9.2v9.2h-9.2zM1541.9 1106.9h9.2v9.2h-9.2zM1547.9 1100.9h9.2v9.2h-9.2zM1554.0 1104.0h9.1v9.1h-9.1zM1557.0 1107.0h9.1v9.1h-9.1zM1563.0 1110.0h9.1v9.1h-9.1zM1569.0 1107.0h9v9h-9zM1575.0 1113.0h9.1v9.1h-9.1zM1577.9 1109.9h9.2v9.2h-9.2zM1583.9 1109.9h9.2v9.2h-9.2zM1589.9 1106.9h9.2v9.2h-9.2z" fill="#ff8000"/>
<polyline points="283.5,1105.5 286.5,1099.5 289.5,1099.5 292.5,1108.5 298.5,1111.5 304.5,1075.5 307.5,1003.5 313.5,967.5 316.5,973.5 322.5,985.5 328.5,997.5 334.5,1006.5 340.5,1009.5 346.5,1000.5 352.5,985.5 358.5,976.5 361.5,964.5 367.5,958.5 373.5,958.5 379.5,958.5 382.5,958.5 388.5,961.5 394.5,958.5 397.5,952.5 403.5,949.5 409.5,946.5 415.5,937.5 418.5,928.5 424.5,910.5 430.5,916.5 436.5,922.5 439.5,931.5 445.5,946.5 451.5,961.5 457.5,967.5 460.5,976.5 466.5,982.5 472.5,985.5 475.5,988.5 481.5,988.5 487.5,985.5 493.5,985.5 496.5,985.5 502.5,991.5 508.5,994.5 514.5,994.5 517.5,997.5 523.5,997.5 529.5,994.5 535.5,991.5 538.5,991.5 544.5,991.5 550.5,988.5 556.5,985.5 559.5,985.5 565.5,982.5 571.5,979.5 574.5,973.5 580.5,970.5 586.5,964.5 592.5,961.5 595.5,958.5 601.5,946.5 607.5,931.5 613.5,931.5 616.5,925.5 622.5,925.5 628.5,922.5 634.5,931.5 637.5,949.5 643.5,952.5 649.5,955.5 655.5,964.5 658.5,973.5 664.5,982.5 670.5,991.5 673.5,1003.5 679.5,1018.5 685.5,1027.5 691.5,1036.5 694.5,1042.5 700.5,1048.5 706.5,1054.5 712.5,1057.5 715.5,1063.5 721.5,1066.5 727.5,1075.5 733.5,1078.5 736.5,1081.5 742.5,1087.5 748.5,1087.5 751.5,1090.5 757.5,1090.5 763.5,1090.5 769.5,1090.5 772.5,1090.5 778.5,1093.5 784.5,1090.5 790.5,1090.5 793.5,1090.5 799.5,1093.5 805.5,1090.5 811.5,1093.5 814.5,1090.5 820.5,1090.5 826.5,1090.5 832.5,1090.5 835.5,1087.5 841.5,1087.5 847.5,1087.5 850.5,1084.5 856.5,1081.5 862.5,1078.5 868.5,1078.5 871.5,1075.5 877.5,1072.5 883.5,1069.5 889.5,1063.5 892.5,1057.5 898.5,1054.5 904.5,1051.5 910.5,1042.5 913.5,1039.5 919.5,1033.5 925.5,1027.5 931.5,1021.5 934.5,1021.5 940.5,1018.5 946.5,1012.5 949.5,1006.5 955.5,1003.5 961.5,1000.5 967.5,994.5 970.5,985.5 976.5,982.5 982.5,973.5 988.5,973.5 991.5,970.5 997.5,961.5 1003.5,958.5 1009.5,952.5 1012.5,946.5 1018.5,943.5 1024.5,940.5 1027.5,937.5 1033.5,940.5 1039.5,937.5 1045.5,937.5 1048.5,934.5 1054.5,934.5 1060.5,934.5 1066.5,928.5 1069.5,928.5 1075.5,925.5 1081.5,925.5 1087.5,922.5 1090.5,919.5 1096.5,922.5 1102.5,919.5 1108.5,916.5 1111.5,919.5 1117.5,919.5 1123.5,919.5 1126.5,919.5 1132.5,922.5 1138.5,934.5 1144.5,940.5 1147.5,949.5 1153.5,955.5 1159.5,967.5 1165.5,982.5 1168.5,991.5 1174.5,1012.5 1180.5,1033.5 1186.5,1051.5 1189.5,1069.5 1195.5,1081.5 1201.5,1093.5 1207.5,1102.5 1210.5,1108.5 1216.5,1108.5 1222.5,1111.5 1225.5,1111.5 1231.5,1111.5 1237.5,1114.5 1243.5,1120.5 1246.5,1117.5 1252.5,1123.5 1258.5,1117.5 1264.5,1120.5 1267.5,1120.5 1273.5,1117.5 1279.5,1120.5 1285.5,1123.5 1288.5,1123.5 1294.5,1123.5 1300.5,1120.5 1303.5,1123.5 1309.5,1120.5 1315.5,1117.5 1321.5,1120.5 1324.5,1117.5 1330.5,1120.5 1336.5,1117.5 1342.5,1120.5 1345.5,1120.5" fill="none" stroke="#10108f" stroke-width="2.8" stroke-linejoin="round"/>
<path d="M280.0 1102.0h7v7h-7zM283.0 1096.0h7v7h-7zM286.0 1096.0h7v7h-7zM289.0 1105.0h7v7h-7zM295.0 1108.0h7v7h-7zM301.0 1072.0h7v7h-7zM304.0 1000.0h7v7h-7zM310.0 964.0h7v7h-7zM313.0 970.0h7v7h-7zM319.0 982.0h7v7h-7zM325.0 994.0h7v7h-7zM331.0 1003.0h7v7h-7zM337.0 1006.0h7v7h-7zM343.0 997.0h7v7h-7zM349.0 982.0h7v7h-7zM355.0 973.0h7v7h-7zM358.0 961.0h7v7h-7z" fill="#00008b"/>
<path d="M362.9 953.9h9.2v9.2h-9.2zM368.9 953.9h9.2v9.2h-9.2zM374.9 953.9h9.2v9.2h-9.2zM377.9 953.9h9.2v9.2h-9.2zM383.9 957.0h9.1v9.1h-9.1zM390.1 954.1h8.8v8.8h-8.8zM393.2 948.2h8.5v8.5h-8.5zM399.5 945.5h8v8h-8zM405.8 942.8h7.5v7.5h-7.5zM411.8 933.8h7.4v7.4h-7.4zM414.9 925.0h7.1v7.1h-7.1zM420.5 906.5h8v8h-8zM426.5 912.5h8v8h-8zM432.8 918.8h7.4v7.4h-7.4zM435.9 928.0h7.1v7.1h-7.1zM442.0 943.0h7v7h-7zM447.9 957.9h7.2v7.2h-7.2zM453.6 963.6h7.7v7.7h-7.7zM456.6 972.6h7.8v7.8h-7.8zM462.6 978.5h7.9v7.9h-7.9zM468.4 981.4h8.2v8.2h-8.2zM470.9 984.0h9.1v9.1h-9.1zM477.0 984.0h9v9h-9zM482.9 981.0h9.1v9.1h-9.1zM488.9 981.0h9.1v9.1h-9.1zM492.2 981.2h8.6v8.6h-8.6zM498.1 987.1h8.7v8.7h-8.7zM504.1 990.1h8.8v8.8h-8.8zM510.1 990.0h8.9v8.9h-8.9zM513.0 993.0h9.1v9.1h-9.1zM519.0 993.0h9.1v9.1h-9.1zM525.2 990.2h8.6v8.6h-8.6zM531.0 987.0h8.9v8.9h-8.9zM534.0 987.0h9.1v9.1h-9.1zM540.0 987.0h9.1v9.1h-9.1zM546.0 984.0h9v9h-9zM552.1 981.1h8.8v8.8h-8.8zM555.1 981.1h8.7v8.7h-8.7zM561.2 978.2h8.5v8.5h-8.5zM567.4 975.4h8.3v8.3h-8.3zM570.4 969.4h8.3v8.3h-8.3zM576.4 966.4h8.2v8.2h-8.2zM582.4 960.4h8.2v8.2h-8.2zM588.2 957.2h8.5v8.5h-8.5zM591.6 954.6h7.8v7.8h-7.8zM598.0 943.0h7v7h-7zM603.9 927.9h7.3v7.3h-7.3zM609.1 927.1h8.7v8.7h-8.7zM612.1 921.1h8.8v8.8h-8.8zM618.0 921.0h8.9v8.9h-8.9zM624.4 918.4h8.2v8.2h-8.2zM631.0 928.0h7v7h-7zM633.9 945.9h7.3v7.3h-7.3zM639.1 948.1h8.7v8.7h-8.7zM645.6 951.6h7.7v7.7h-7.7zM651.9 960.9h7.3v7.3h-7.3zM654.8 969.8h7.4v7.4h-7.4zM660.9 978.9h7.3v7.3h-7.3zM667.0 988.0h7.1v7.1h-7.1zM670.0 1000.0h7.1v7.1h-7.1zM675.9 1014.9h7.2v7.2h-7.2zM681.9 1023.9h7.3v7.3h-7.3zM687.7 1032.7h7.6v7.6h-7.6zM690.6 1038.7h7.7v7.7h-7.7zM696.5 1044.5h7.9v7.9h-7.9zM702.5 1050.5h8v8h-8zM708.5 1053.5h8v8h-8zM711.5 1059.5h7.9v7.9h-7.9zM717.5 1062.5h7.9v7.9h-7.9zM723.5 1071.5h8v8h-8zM729.3 1074.3h8.4v8.4h-8.4zM732.2 1077.2h8.6v8.6h-8.6zM738.1 1083.2h8.7v8.7h-8.7zM744.1 1083.1h8.8v8.8h-8.8zM747.0 1086.0h9.1v9.1h-9.1zM752.9 1085.9h9.2v9.2h-9.2zM758.9 1085.9h9.2v9.2h-9.2zM764.9 1085.9h9.2v9.2h-9.2zM767.9 1085.9h9.2v9.2h-9.2zM773.9 1088.9h9.2v9.2h-9.2zM779.9 1085.9h9.2v9.2h-9.2zM785.9 1085.9h9.2v9.2h-9.2zM788.9 1085.9h9.2v9.2h-9.2zM794.9 1088.9h9.2v9.2h-9.2zM800.9 1085.9h9.2v9.2h-9.2zM806.9 1088.9h9.2v9.2h-9.2zM809.9 1085.9h9.2v9.2h-9.2zM816.0 1086.0h9.1v9.1h-9.1zM822.0 1086.0h9.1v9.1h-9.1zM828.0 1086.0h9.1v9.1h-9.1zM831.0 1083.0h9.1v9.1h-9.1zM837.0 1083.0h9v9h-9zM843.0 1083.0h9v9h-9zM846.0 1080.0h9v9h-9zM852.0 1077.0h8.9v8.9h-8.9zM858.1 1074.1h8.8v8.8h-8.8zM864.1 1074.1h8.8v8.8h-8.8zM867.1 1071.2h8.7v8.7h-8.7zM873.2 1068.2h8.6v8.6h-8.6zM879.2 1065.2h8.6v8.6h-8.6zM885.4 1059.3h8.3v8.3h-8.3zM888.5 1053.5h8v8h-8zM894.5 1050.5h8v8h-8zM900.5 1047.5h8v8h-8zM906.5 1038.5h8v8h-8zM909.5 1035.5h8v8h-8zM915.5 1029.5h7.9v7.9h-7.9zM921.5 1023.5h7.9v7.9h-7.9zM927.2 1017.2h8.5v8.5h-8.5zM930.0 1017.0h8.9v8.9h-8.9zM936.3 1014.3h8.4v8.4h-8.4zM942.6 1008.6h7.8v7.8h-7.8zM945.4 1002.4h8.2v8.2h-8.2zM951.0 999.0h8.9v8.9h-8.9zM957.5 996.5h8.1v8.1h-8.1zM963.8 990.8h7.5v7.5h-7.5zM966.6 981.6h7.7v7.7h-7.7zM972.5 978.5h8v8h-8zM978.4 969.4h8.3v8.3h-8.3zM984.3 969.3h8.4v8.4h-8.4zM987.4 966.4h8.3v8.3h-8.3zM993.4 957.4h8.2v8.2h-8.2zM999.5 954.5h7.9v7.9h-7.9zM1005.6 948.6h7.7v7.7h-7.7zM1008.4 942.4h8.2v8.2h-8.2zM1014.1 939.1h8.8v8.8h-8.8zM1020.0 936.0h8.9v8.9h-8.9zM1023.0 933.0h9.1v9.1h-9.1zM1028.9 935.9h9.2v9.2h-9.2zM1034.9 932.9h9.2v9.2h-9.2zM1041.0 933.0h9.1v9.1h-9.1zM1044.0 930.0h9.1v9.1h-9.1zM1050.0 930.0h9v9h-9zM1056.0 930.0h9v9h-9zM1062.0 924.0h8.9v8.9h-8.9zM1065.0 924.0h8.9v8.9h-8.9zM1071.0 921.0h8.9v8.9h-8.9zM1077.0 921.0h9v9h-9zM1083.0 918.0h9.1v9.1h-9.1zM1086.0 915.0h9.1v9.1h-9.1zM1092.0 918.0h9.1v9.1h-9.1zM1097.9 914.9h9.2v9.2h-9.2zM1103.9 911.9h9.2v9.2h-9.2zM1106.9 914.9h9.2v9.2h-9.2zM1112.9 914.9h9.2v9.2h-9.2zM1118.9 914.9h9.2v9.2h-9.2zM1122.0 915.0h8.9v8.9h-8.9zM1128.7 918.7h7.6v7.6h-7.6zM1134.8 930.8h7.4v7.4h-7.4zM1140.7 936.7h7.6v7.6h-7.6zM1143.7 945.7h7.6v7.6h-7.6zM1149.8 951.8h7.4v7.4h-7.4zM1156.0 964.0h7.1v7.1h-7.1zM1162.0 979.0h7v7h-7zM1165.0 988.0h6.9v6.9h-6.9zM1171.1 1009.1h6.8v6.8h-6.8zM1177.1 1030.1h6.8v6.8h-6.8zM1183.1 1048.1h6.8v6.8h-6.8zM1186.0 1066.0h6.9v6.9h-6.9zM1192.0 1078.0h7.1v7.1h-7.1zM1197.8 1089.8h7.3v7.3h-7.3zM1203.7 1098.7h7.7v7.7h-7.7zM1206.3 1104.3h8.3v8.3h-8.3zM1212.1 1104.1h8.8v8.8h-8.8zM1218.0 1107.0h8.9v8.9h-8.9zM1221.0 1107.0h9.1v9.1h-9.1zM1227.0 1107.0h9.1v9.1h-9.1zM1233.0 1110.0h9.1v9.1h-9.1zM1239.0 1116.0h9.1v9.1h-9.1zM1242.0 1113.0h9.1v9.1h-9.1zM1248.0 1119.0h9.1v9.1h-9.1zM1254.0 1113.0h9.1v9.1h-9.1zM1259.9 1115.9h9.2v9.2h-9.2zM1262.9 1115.9h9.2v9.2h-9.2zM1268.9 1112.9h9.2v9.2h-9.2zM1274.9 1115.9h9.2v9.2h-9.2zM1280.9 1118.9h9.2v9.2h-9.2zM1283.9 1118.9h9.2v9.2h-9.2zM1289.9 1118.9h9.2v9.2h-9.2zM1295.9 1115.9h9.2v9.2h-9.2zM1298.9 1118.9h9.2v9.2h-9.2zM1304.9 1115.9h9.2v9.2h-9.2zM1310.9 1112.9h9.2v9.2h-9.2zM1316.9 1115.9h9.2v9.2h-9.2zM1319.9 1112.9h9.2v9.2h-9.2zM1325.9 1115.9h9.2v9.2h-9.2zM1331.9 1112.9h9.2v9.2h-9.2zM1337.9 1115.9h9.2v9.2h-9.2zM1340.9 1115.9h9.2v9.2h-9.2z" fill="#00008b"/>
<polyline points="283.5,1111.5 286.5,1105.5 292.5,1117.5 298.5,1111.5 304.5,1093.5 310.5,1048.5 313.5,976.5 319.5,955.5 325.5,988.5 331.5,1018.5 337.5,1033.5 340.5,1033.5 346.5,1027.5 355.5,1012.5 361.5,997.5 367.5,988.5 373.5,973.5 376.5,961.5 382.5,949.5 391.5,934.5 397.5,934.5 400.5,946.5 406.5,955.5 412.5,964.5 418.5,973.5 421.5,985.5 427.5,994.5 433.5,994.5 439.5,991.5 442.5,991.5 448.5,988.5 454.5,988.5 457.5,988.5 463.5,985.5 469.5,982.5 475.5,979.5 478.5,979.5 484.5,976.5 490.5,976.5 496.5,976.5 499.5,976.5 505.5,973.5 511.5,970.5 517.5,970.5 520.5,967.5 526.5,970.5 532.5,970.5 538.5,970.5 541.5,970.5 547.5,970.5 553.5,976.5 556.5,976.5 562.5,976.5 568.5,976.5 574.5,976.5 577.5,976.5 583.5,976.5 589.5,976.5 595.5,982.5 598.5,988.5 604.5,991.5 610.5,994.5 616.5,991.5 619.5,988.5 625.5,982.5 631.5,979.5 634.5,979.5 640.5,985.5 646.5,985.5 652.5,985.5 655.5,982.5 661.5,985.5 667.5,982.5 673.5,988.5 676.5,994.5 682.5,1003.5 688.5,1009.5 694.5,1015.5 697.5,1018.5 703.5,1027.5 709.5,1033.5 715.5,1039.5 718.5,1045.5 724.5,1054.5 730.5,1057.5 733.5,1063.5 739.5,1072.5 745.5,1078.5 751.5,1084.5 754.5,1087.5 760.5,1090.5 766.5,1090.5 772.5,1093.5 775.5,1093.5 781.5,1096.5 787.5,1096.5 793.5,1096.5 796.5,1096.5 802.5,1102.5 808.5,1105.5 814.5,1105.5 817.5,1102.5 823.5,1099.5 829.5,1099.5 832.5,1099.5 838.5,1099.5 844.5,1105.5 850.5,1108.5 853.5,1105.5 859.5,1102.5 865.5,1102.5 871.5,1105.5 874.5,1102.5 880.5,1105.5 886.5,1102.5 892.5,1102.5 895.5,1099.5 901.5,1096.5 907.5,1093.5 910.5,1093.5 916.5,1093.5 922.5,1093.5 928.5,1093.5 931.5,1090.5 937.5,1093.5 943.5,1096.5 949.5,1096.5 952.5,1090.5 958.5,1087.5 964.5,1084.5 970.5,1084.5 973.5,1081.5 979.5,1078.5 985.5,1075.5 991.5,1075.5 994.5,1072.5 1000.5,1069.5 1006.5,1069.5 1009.5,1066.5 1015.5,1066.5 1021.5,1063.5 1027.5,1063.5 1030.5,1057.5 1036.5,1057.5 1042.5,1054.5 1048.5,1051.5 1051.5,1051.5 1057.5,1045.5 1063.5,1045.5 1069.5,1042.5 1072.5,1039.5 1078.5,1036.5 1084.5,1036.5 1090.5,1036.5 1093.5,1039.5 1099.5,1036.5 1105.5,1033.5 1108.5,1030.5 1114.5,1030.5 1120.5,1027.5 1126.5,1024.5 1129.5,1021.5 1135.5,1021.5 1141.5,1021.5 1147.5,1024.5 1150.5,1021.5 1156.5,1021.5 1162.5,1015.5 1168.5,1012.5 1171.5,1006.5 1177.5,1006.5 1183.5,1003.5 1186.5,1003.5 1192.5,1003.5 1198.5,1003.5 1204.5,1000.5 1207.5,1000.5 1213.5,1000.5 1219.5,997.5 1225.5,1000.5 1228.5,1000.5 1234.5,1003.5 1240.5,1000.5 1246.5,1003.5 1249.5,1000.5 1255.5,1000.5 1261.5,1000.5 1267.5,1003.5 1270.5,1003.5 1276.5,1003.5 1282.5,1003.5 1285.5,1003.5 1291.5,1006.5 1297.5,1003.5 1303.5,1003.5 1306.5,1006.5 1312.5,1000.5 1318.5,1003.5 1324.5,1003.5 1327.5,1006.5 1333.5,1006.5 1339.5,1006.5 1345.5,1003.5 1348.5,1006.5 1354.5,1003.5 1360.5,1006.5 1366.5,1006.5 1369.5,1003.5 1375.5,1003.5 1381.5,1006.5 1384.5,1006.5 1390.5,1003.5 1396.5,1006.5 1402.5,1003.5 1405.5,1003.5 1411.5,1003.5 1417.5,1003.5 1423.5,1006.5 1426.5,1009.5 1432.5,1009.5 1438.5,1009.5 1444.5,1009.5 1447.5,1012.5 1453.5,1018.5 1459.5,1021.5 1462.5,1021.5 1468.5,1027.5 1474.5,1033.5 1480.5,1036.5 1483.5,1042.5 1489.5,1048.5 1495.5,1057.5 1501.5,1060.5 1504.5,1066.5 1510.5,1069.5 1516.5,1075.5 1522.5,1081.5 1525.5,1084.5 1531.5,1087.5 1537.5,1093.5 1543.5,1093.5 1546.5,1096.5 1552.5,1099.5 1558.5,1099.5 1561.5,1099.5 1567.5,1099.5 1573.5,1102.5 1579.5,1102.5 1582.5,1105.5 1588.5,1108.5 1594.5,1111.5 1600.5,1105.5 1603.5,1105.5 1609.5,1105.5 1615.5,1108.5 1621.5,1108.5 1624.5,1108.5 1630.5,1105.5 1636.5,1108.5 1639.5,1108.5 1645.5,1108.5 1651.5,1108.5 1657.5,1108.5 1660.5,1108.5 1666.5,1102.5" fill="none" stroke="#18ff18" stroke-width="2.8" stroke-linejoin="round"/>
<path d="M280.0 1108.0h7v7h-7zM283.0 1102.0h7v7h-7zM289.0 1114.0h7v7h-7zM295.0 1108.0h7v7h-7zM301.0 1090.0h7v7h-7zM307.0 1045.0h7v7h-7zM310.0 973.0h7v7h-7zM316.0 952.0h7v7h-7zM322.0 985.0h7v7h-7zM328.0 1015.0h7v7h-7zM334.0 1030.0h7v7h-7zM337.0 1030.0h7v7h-7zM343.0 1024.0h7v7h-7zM352.0 1009.0h7v7h-7zM358.0 994.0h7v7h-7zM364.0 985.0h7v7h-7zM370.0 970.0h7v7h-7zM373.0 958.0h7v7h-7zM379.0 946.0h7v7h-7z" fill="#00ff00"/>
<path d="M386.9 930.0h9.1v9.1h-9.1zM393.4 930.4h8.2v8.2h-8.2zM396.9 942.9h7.3v7.3h-7.3zM402.9 951.9h7.3v7.3h-7.3zM408.8 960.8h7.4v7.4h-7.4zM414.9 970.0h7.1v7.1h-7.1zM417.9 981.9h7.2v7.2h-7.2zM423.2 990.2h8.6v8.6h-8.6zM428.9 989.9h9.2v9.2h-9.2zM434.9 987.0h9.1v9.1h-9.1zM437.9 987.0h9.1v9.1h-9.1zM443.9 984.0h9.1v9.1h-9.1zM449.9 983.9h9.2v9.2h-9.2zM453.0 984.0h9v9h-9zM459.1 981.1h8.7v8.7h-8.7zM465.1 978.1h8.7v8.7h-8.7zM471.0 975.0h9v9h-9zM473.9 975.0h9.1v9.1h-9.1zM479.9 972.0h9.1v9.1h-9.1zM485.9 972.0h9.1v9.1h-9.1zM491.9 972.0h9.1v9.1h-9.1zM494.9 972.0h9.1v9.1h-9.1zM500.9 969.0h9.1v9.1h-9.1zM506.9 966.0h9.1v9.1h-9.1zM513.0 966.0h9.1v9.1h-9.1zM515.9 962.9h9.2v9.2h-9.2zM521.9 965.9h9.2v9.2h-9.2zM527.9 965.9h9.2v9.2h-9.2zM533.9 965.9h9.2v9.2h-9.2zM536.9 965.9h9.2v9.2h-9.2zM543.0 966.0h9.1v9.1h-9.1zM549.1 972.1h8.7v8.7h-8.7zM552.0 972.0h9v9h-9zM557.9 971.9h9.2v9.2h-9.2zM563.9 971.9h9.2v9.2h-9.2zM569.9 971.9h9.2v9.2h-9.2zM573.0 972.0h9.1v9.1h-9.1zM579.0 972.0h9.1v9.1h-9.1zM585.1 972.1h8.7v8.7h-8.7zM591.4 978.4h8.3v8.3h-8.3zM594.4 984.4h8.3v8.3h-8.3zM600.2 987.2h8.5v8.5h-8.5zM605.9 989.9h9.2v9.2h-9.2zM612.2 987.2h8.5v8.5h-8.5zM615.4 984.4h8.2v8.2h-8.2zM621.4 978.4h8.3v8.3h-8.3zM627.0 975.0h9.1v9.1h-9.1zM630.2 975.2h8.6v8.6h-8.6zM636.2 981.2h8.6v8.6h-8.6zM641.9 980.9h9.2v9.2h-9.2zM648.1 981.1h8.7v8.7h-8.7zM650.9 977.9h9.2v9.2h-9.2zM657.0 981.0h8.9v8.9h-8.9zM663.2 978.2h8.6v8.6h-8.6zM669.5 984.5h8.1v8.1h-8.1zM672.6 990.6h7.7v7.7h-7.7zM678.7 999.7h7.6v7.6h-7.6zM684.6 1005.6h7.8v7.8h-7.8zM690.5 1011.5h7.9v7.9h-7.9zM693.5 1014.5h7.9v7.9h-7.9zM699.5 1023.5h7.9v7.9h-7.9zM705.6 1029.6h7.8v7.8h-7.8zM711.6 1035.6h7.8v7.8h-7.8zM714.6 1041.7h7.7v7.7h-7.7zM720.6 1050.7h7.7v7.7h-7.7zM726.7 1053.7h7.6v7.6h-7.6zM729.6 1059.7h7.7v7.7h-7.7zM735.6 1068.6h7.8v7.8h-7.8zM741.5 1074.5h8v8h-8zM747.3 1080.3h8.4v8.4h-8.4zM750.1 1083.2h8.7v8.7h-8.7zM756.1 1086.1h8.8v8.8h-8.8zM762.0 1086.0h8.9v8.9h-8.9zM768.0 1089.0h9v9h-9zM771.0 1089.0h9v9h-9zM777.0 1092.0h9.1v9.1h-9.1zM782.9 1091.9h9.2v9.2h-9.2zM788.9 1091.9h9.2v9.2h-9.2zM792.0 1092.0h9v9h-9zM798.2 1098.2h8.5v8.5h-8.5zM804.0 1101.0h8.9v8.9h-8.9zM809.9 1100.9h9.2v9.2h-9.2zM813.0 1098.0h8.9v8.9h-8.9zM819.0 1095.0h9.1v9.1h-9.1zM824.9 1094.9h9.2v9.2h-9.2zM827.9 1094.9h9.2v9.2h-9.2zM834.2 1095.2h8.5v8.5h-8.5zM840.5 1101.5h8.1v8.1h-8.1zM846.0 1104.0h9.1v9.1h-9.1zM849.2 1101.2h8.6v8.6h-8.6zM854.9 1097.9h9.2v9.2h-9.2zM861.0 1098.0h9.1v9.1h-9.1zM867.0 1101.0h9.1v9.1h-9.1zM869.9 1097.9h9.2v9.2h-9.2zM876.0 1101.0h9v9h-9zM882.0 1098.0h8.9v8.9h-8.9zM888.0 1098.0h8.9v8.9h-8.9zM891.0 1095.0h8.9v8.9h-8.9zM897.0 1092.0h8.9v8.9h-8.9zM903.0 1089.0h9.1v9.1h-9.1zM905.9 1088.9h9.2v9.2h-9.2zM911.9 1088.9h9.2v9.2h-9.2zM917.9 1088.9h9.2v9.2h-9.2zM923.9 1088.9h9.2v9.2h-9.2zM926.9 1085.9h9.2v9.2h-9.2zM933.0 1089.0h8.9v8.9h-8.9zM938.9 1091.9h9.2v9.2h-9.2zM945.1 1092.1h8.8v8.8h-8.8zM948.3 1086.3h8.4v8.4h-8.4zM954.2 1083.2h8.6v8.6h-8.6zM960.0 1080.0h8.9v8.9h-8.9zM966.0 1080.0h8.9v8.9h-8.9zM969.0 1077.0h8.9v8.9h-8.9zM975.0 1074.0h8.9v8.9h-8.9zM981.0 1071.0h8.9v8.9h-8.9zM987.0 1071.0h8.9v8.9h-8.9zM990.0 1068.0h8.9v8.9h-8.9zM996.0 1065.0h8.9v8.9h-8.9zM1002.0 1065.0h8.9v8.9h-8.9zM1005.0 1062.0h9v9h-9zM1011.0 1062.0h9v9h-9zM1017.0 1059.0h9v9h-9zM1023.0 1059.0h8.9v8.9h-8.9zM1026.0 1053.0h8.9v8.9h-8.9zM1032.1 1053.1h8.8v8.8h-8.8zM1038.1 1050.1h8.8v8.8h-8.8zM1044.1 1047.1h8.8v8.8h-8.8zM1047.1 1047.1h8.8v8.8h-8.8zM1053.1 1041.1h8.8v8.8h-8.8zM1059.1 1041.1h8.8v8.8h-8.8zM1065.0 1038.0h8.9v8.9h-8.9zM1068.0 1035.0h8.9v8.9h-8.9zM1074.0 1032.0h9.1v9.1h-9.1zM1079.9 1031.9h9.2v9.2h-9.2zM1085.9 1031.9h9.2v9.2h-9.2zM1088.9 1034.9h9.2v9.2h-9.2zM1095.0 1032.0h9.1v9.1h-9.1zM1101.0 1029.0h8.9v8.9h-8.9zM1104.0 1026.0h8.9v8.9h-8.9zM1110.0 1026.0h8.9v8.9h-8.9zM1116.0 1023.0h8.9v8.9h-8.9zM1122.0 1020.0h8.9v8.9h-8.9zM1125.0 1017.0h9v9h-9zM1131.0 1017.0h9.1v9.1h-9.1zM1136.9 1016.9h9.2v9.2h-9.2zM1142.9 1019.9h9.2v9.2h-9.2zM1146.1 1017.1h8.8v8.8h-8.8zM1152.2 1017.2h8.5v8.5h-8.5zM1158.2 1011.2h8.5v8.5h-8.5zM1164.4 1008.4h8.2v8.2h-8.2zM1167.2 1002.2h8.5v8.5h-8.5zM1173.0 1002.0h9.1v9.1h-9.1zM1178.9 998.9h9.2v9.2h-9.2zM1181.9 998.9h9.2v9.2h-9.2zM1187.9 998.9h9.2v9.2h-9.2zM1193.9 998.9h9.2v9.2h-9.2zM1199.9 995.9h9.2v9.2h-9.2zM1202.9 995.9h9.2v9.2h-9.2zM1208.9 995.9h9.2v9.2h-9.2zM1214.9 992.9h9.2v9.2h-9.2zM1220.9 995.9h9.2v9.2h-9.2zM1223.9 995.9h9.2v9.2h-9.2zM1229.9 998.9h9.2v9.2h-9.2zM1235.9 995.9h9.2v9.2h-9.2zM1241.9 998.9h9.2v9.2h-9.2zM1244.9 995.9h9.2v9.2h-9.2zM1251.0 996.0h9.1v9.1h-9.1zM1256.9 995.9h9.2v9.2h-9.2zM1263.0 999.0h9v9h-9zM1266.0 999.0h9v9h-9zM1271.9 998.9h9.2v9.2h-9.2zM1277.9 998.9h9.2v9.2h-9.2zM1280.9 998.9h9.2v9.2h-9.2zM1286.9 1001.9h9.2v9.2h-9.2zM1292.9 998.9h9.2v9.2h-9.2zM1298.9 998.9h9.2v9.2h-9.2zM1301.9 1001.9h9.2v9.2h-9.2zM1307.9 995.9h9.2v9.2h-9.2zM1313.9 998.9h9.2v9.2h-9.2zM1320.0 999.0h9v9h-9zM1323.0 1002.0h8.9v8.9h-8.9zM1328.9 1001.9h9.2v9.2h-9.2zM1334.9 1001.9h9.2v9.2h-9.2zM1340.9 998.9h9.2v9.2h-9.2zM1343.9 1001.9h9.2v9.2h-9.2zM1349.9 998.9h9.2v9.2h-9.2zM1355.9 1001.9h9.2v9.2h-9.2zM1361.9 1001.9h9.2v9.2h-9.2zM1364.9 998.9h9.2v9.2h-9.2zM1370.9 998.9h9.2v9.2h-9.2zM1376.9 1001.9h9.2v9.2h-9.2zM1379.9 1001.9h9.2v9.2h-9.2zM1385.9 998.9h9.2v9.2h-9.2zM1391.9 1001.9h9.2v9.2h-9.2zM1397.9 998.9h9.2v9.2h-9.2zM1400.9 998.9h9.2v9.2h-9.2zM1406.9 998.9h9.2v9.2h-9.2zM1413.0 999.0h9.1v9.1h-9.1zM1419.0 1002.0h8.9v8.9h-8.9zM1422.0 1005.0h9v9h-9zM1428.0 1005.0h9.1v9.1h-9.1zM1433.9 1004.9h9.2v9.2h-9.2zM1440.0 1005.0h9.1v9.1h-9.1zM1443.2 1008.1h8.7v8.7h-8.7zM1449.3 1014.3h8.4v8.4h-8.4zM1455.2 1017.2h8.5v8.5h-8.5zM1458.3 1017.4h8.3v8.3h-8.3zM1464.5 1023.5h8.1v8.1h-8.1zM1470.4 1029.4h8.2v8.2h-8.2zM1476.4 1032.4h8.2v8.2h-8.2zM1479.6 1038.6h7.8v7.8h-7.8zM1485.7 1044.7h7.7v7.7h-7.7zM1491.5 1053.5h8v8h-8zM1497.4 1056.4h8.2v8.2h-8.2zM1500.4 1062.4h8.2v8.2h-8.2zM1506.5 1065.5h7.9v7.9h-7.9zM1512.5 1071.5h8v8h-8zM1518.3 1077.3h8.3v8.3h-8.3zM1521.3 1080.3h8.4v8.4h-8.4zM1527.2 1083.2h8.5v8.5h-8.5zM1533.2 1089.2h8.7v8.7h-8.7zM1539.0 1089.0h8.9v8.9h-8.9zM1542.0 1092.0h8.9v8.9h-8.9zM1548.0 1095.0h9v9h-9zM1554.0 1095.0h9v9h-9zM1557.0 1095.0h9.1v9.1h-9.1zM1563.0 1095.0h9.1v9.1h-9.1zM1569.0 1098.0h9.1v9.1h-9.1zM1575.0 1098.0h9.1v9.1h-9.1zM1578.0 1101.0h9.1v9.1h-9.1zM1584.0 1104.0h9.1v9.1h-9.1zM1590.0 1107.0h9.1v9.1h-9.1zM1595.9 1100.9h9.2v9.2h-9.2zM1598.9 1100.9h9.2v9.2h-9.2zM1604.9 1100.9h9.2v9.2h-9.2zM1610.9 1103.9h9.2v9.2h-9.2zM1616.9 1103.9h9.2v9.2h-9.2zM1619.9 1103.9h9.2v9.2h-9.2zM1625.9 1100.9h9.2v9.2h-9.2zM1631.9 1103.9h9.2v9.2h-9.2zM1634.9 1103.9h9.2v9.2h-9.2zM1640.9 1103.9h9.2v9.2h-9.2zM1646.9 1103.9h9.2v9.2h-9.2zM1652.9 1103.9h9.2v9.2h-9.2zM1655.9 1103.9h9.2v9.2h-9.2zM1661.9 1097.9h9.2v9.2h-9.2z" fill="#00ff00"/>
</g>
<g id="labels" filter="url(#ft)">
<text transform="translate(245.5,1136.5) scale(0.99,1.04)" text-anchor="end" font-size="56">0</text>
<text transform="translate(245.5,957.4) scale(0.99,1.04)" text-anchor="end" font-size="56">200</text>
<text transform="translate(245.5,778.3) scale(0.99,1.04)" text-anchor="end" font-size="56">400</text>
<text transform="translate(245.5,599.2) scale(0.99,1.04)" text-anchor="end" font-size="56">600</text>
<text transform="translate(245.5,420.1) scale(0.99,1.04)" text-anchor="end" font-size="56">800</text>
<text transform="translate(245.5,241.0) scale(0.99,1.04)" text-anchor="end" font-size="56">1000</text>
<text transform="translate(245.5,61.9) scale(0.99,1.04)" text-anchor="end" font-size="56">1200</text>
<text transform="translate(279.5,1209.0) scale(0.99,1.04)" text-anchor="middle" font-size="56">0</text>
<text transform="translate(488.1,1209.0) scale(0.99,1.04)" text-anchor="middle" font-size="56">200</text>
<text transform="translate(696.7,1209.0) scale(0.99,1.04)" text-anchor="middle" font-size="56">400</text>
<text transform="translate(905.3,1209.0) scale(0.99,1.04)" text-anchor="middle" font-size="56">600</text>
<text transform="translate(1114.0,1209.0) scale(0.99,1.04)" text-anchor="middle" font-size="56">800</text>
<text transform="translate(1322.6,1209.0) scale(0.99,1.04)" text-anchor="middle" font-size="56">1000</text>
<text transform="translate(1531.2,1209.0) scale(0.99,1.04)" text-anchor="middle" font-size="56">1200</text>
<text transform="translate(1739.8,1209.0) scale(0.99,1.04)" text-anchor="middle" font-size="56">1400</text>
<text transform="translate(1011.0,1302.0) scale(1.035,1.04)" text-anchor="middle" font-size="56">Time (s)</text>
<text transform="translate(78,835.5) rotate(-90) scale(1.0,1.04)" font-size="66">HRR <tspan dx="-3">(kW/m</tspan><tspan font-size="43" dy="-34" dx="1">2</tspan><tspan dy="34" dx="2">)</tspan></text>
<text transform="translate(516.0,98.5) scale(1.03,1)" text-anchor="middle" font-size="56">(a)</text>
<text transform="translate(773.0,905.0) scale(1.03,1)" text-anchor="middle" font-size="56">(b)</text>
<text transform="translate(1315.5,927.5) scale(1.03,1)" text-anchor="middle" font-size="56">(c)</text>
<text transform="translate(1118.0,889.5) scale(1.03,1)" text-anchor="middle" font-size="56">(d)</text>
<text transform="translate(1438.5,982.5) scale(1.03,1)" text-anchor="middle" font-size="56">(e)</text>
</g>
</svg></body></html>
